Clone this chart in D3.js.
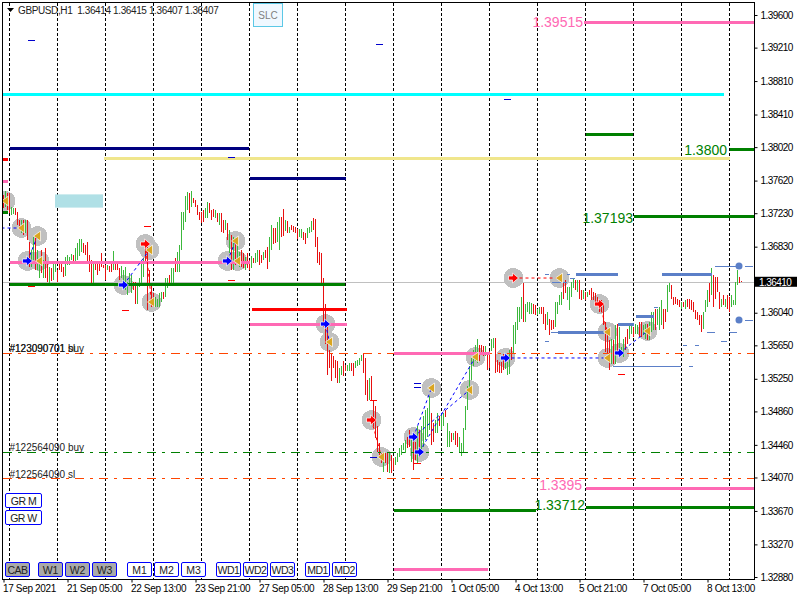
<!DOCTYPE html>
<html>
<head>
<meta charset="utf-8">
<style>
  html, body { margin: 0; padding: 0; background: #fff; overflow: hidden; }
  text { font-family: "Liberation Sans", Arial, sans-serif; }
</style>
<script src="https://cdn.jsdelivr.net/npm/d3@7"></script>
</head>
<body>
<div id="chart"></div>
<script>
// H1 bars, high / low, 10 per row
const barHigh = [
1.3745,1.3749,1.3747,1.3747,1.3731,1.3729,1.3729,1.3725,1.3715,1.3715,
1.3715,1.3715,1.3715,1.3689,1.3679,1.3695,1.3695,1.3679,1.3663,1.3679,
1.3667,1.3681,1.3663,1.3659,1.3657,1.3663,1.3663,1.3655,1.3663,1.3663,
1.3659,1.3671,1.3673,1.3671,1.3674,1.3673,1.3681,1.3687,1.3692,1.3692,
1.3687,1.3685,1.3689,1.3673,1.3667,1.3663,1.3663,1.3663,1.3663,1.3675,
1.3661,1.3661,1.3661,1.3660,1.3663,1.3678,1.3662,1.3663,1.3658,1.3660,
1.3655,1.3659,1.3641,1.3651,1.3649,1.3641,1.3641,1.3637,1.3645,1.3665,
1.3669,1.3691,1.3683,1.3655,1.3637,1.3627,1.3623,1.3621,1.3627,1.3629,
1.3629,1.3645,1.3645,1.3649,1.3657,1.3657,1.3670,1.3677,1.3685,1.3725,
1.3725,1.3743,1.3748,1.3747,1.3750,1.3741,1.3739,1.3733,1.3725,1.3725,
1.3727,1.3729,1.3736,1.3735,1.3727,1.3728,1.3727,1.3723,1.3723,1.3723,
1.3715,1.3715,1.3711,1.3703,1.3697,1.3695,1.3693,1.3685,1.3677,1.3679,
1.3675,1.3671,1.3675,1.3667,1.3672,1.3670,1.3675,1.3679,1.3679,1.3673,
1.3677,1.3679,1.3682,1.3695,1.3709,1.3705,1.3705,1.3713,1.3719,1.3719,
1.3728,1.3715,1.3714,1.3707,1.3709,1.3708,1.3707,1.3704,1.3704,1.3704,
1.3701,1.3699,1.3705,1.3706,1.3714,1.3717,1.3716,1.3695,1.3677,1.3675,
1.3645,1.3615,1.3587,1.3560,1.3556,1.3552,1.3548,1.3546,1.3538,1.3540,
1.3546,1.3542,1.3542,1.3544,1.3544,1.3544,1.3546,1.3548,1.3550,1.3554,
1.3556,1.3550,1.3524,1.3526,1.3528,1.3500,1.3492,1.3468,1.3448,1.3436,
1.3438,1.3436,1.3438,1.3438,1.3434,1.3430,1.3432,1.3436,1.3442,1.3446,
1.3448,1.3452,1.3456,1.3464,1.3452,1.3456,1.3450,1.3468,1.3464,1.3468,
1.3480,1.3488,1.3490,1.3504,1.3484,1.3472,1.3476,1.3484,1.3480,1.3484,
1.3484,1.3488,1.3472,1.3462,1.3460,1.3460,1.3462,1.3460,1.3456,1.3448,
1.3466,1.3492,1.3516,1.3540,1.3550,1.3560,1.3566,1.3572,1.3566,1.3566,
1.3564,1.3564,1.3556,1.3558,1.3572,1.3574,1.3574,1.3547,1.3545,1.3545,
1.3555,1.3551,1.3545,1.3559,1.3563,1.3589,1.3593,1.3611,1.3611,1.3623,
1.3639,1.3615,1.3617,1.3617,1.3616,1.3615,1.3613,1.3609,1.3611,1.3611,
1.3611,1.3603,1.3605,1.3597,1.3595,1.3595,1.3617,1.3617,1.3625,1.3629,
1.3641,1.3643,1.3635,1.3635,1.3641,1.3645,1.3643,1.3643,1.3643,1.3631,
1.3631,1.3629,1.3629,1.3631,1.3633,1.3629,1.3627,1.3623,1.3617,1.3619,
1.3615,1.3593,1.3583,1.3571,1.3573,1.3571,1.3589,1.3591,1.3587,1.3563,
1.3573,1.3575,1.3585,1.3589,1.3589,1.3587,1.3591,1.3589,1.3593,1.3593,
1.3589,1.3591,1.3591,1.3593,1.3605,1.3605,1.3609,1.3609,1.3611,1.3619,
1.3609,1.3609,1.3637,1.3639,1.3637,1.3623,1.3623,1.3621,1.3619,1.3617,
1.3617,1.3619,1.3621,1.3621,1.3619,1.3617,1.3607,1.3605,1.3601,1.3601,
1.3605,1.3619,1.3631,1.3639,1.3657,1.3649,1.3647,1.3647,1.3629,1.3621,
1.3625,1.3621,1.3625,1.3623,1.3625,1.3619,1.3641,1.3655,1.3647,1.3642
];
const barLow = [
1.3729,1.3731,1.3727,1.3723,1.3721,1.3722,1.3721,1.3709,1.3703,1.3699,
1.3697,1.3699,1.3691,1.3659,1.3659,1.3667,1.3655,1.3655,1.3645,1.3651,
1.3645,1.3645,1.3641,1.3639,1.3642,1.3643,1.3653,1.3641,1.3655,1.3653,
1.3647,1.3648,1.3661,1.3661,1.3667,1.3666,1.3663,1.3667,1.3672,1.3677,
1.3675,1.3673,1.3663,1.3653,1.3639,1.3639,1.3655,1.3649,1.3654,1.3659,
1.3657,1.3643,1.3655,1.3653,1.3653,1.3655,1.3655,1.3655,1.3643,1.3645,
1.3637,1.3631,1.3625,1.3637,1.3627,1.3631,1.3615,1.3615,1.3635,1.3639,
1.3647,1.3663,1.3607,1.3637,1.3611,1.3611,1.3611,1.3611,1.3611,1.3617,
1.3621,1.3623,1.3633,1.3639,1.3639,1.3639,1.3653,1.3653,1.3653,1.3679,
1.3703,1.3713,1.3727,1.3723,1.3731,1.3735,1.3731,1.3721,1.3715,1.3711,
1.3713,1.3717,1.3717,1.3723,1.3715,1.3719,1.3717,1.3713,1.3709,1.3701,
1.3699,1.3703,1.3691,1.3675,1.3655,1.3655,1.3661,1.3665,1.3659,1.3659,
1.3657,1.3655,1.3657,1.3655,1.3657,1.3663,1.3663,1.3665,1.3661,1.3663,
1.3667,1.3670,1.3656,1.3665,1.3679,1.3686,1.3687,1.3689,1.3679,1.3695,
1.3696,1.3702,1.3699,1.3699,1.3703,1.3701,1.3699,1.3692,1.3695,1.3693,
1.3691,1.3686,1.3693,1.3699,1.3701,1.3703,1.3683,1.3663,1.3661,1.3639,
1.3587,1.3567,1.3530,1.3538,1.3522,1.3538,1.3526,1.3520,1.3520,1.3530,
1.3528,1.3534,1.3534,1.3534,1.3534,1.3528,1.3538,1.3540,1.3542,1.3546,
1.3532,1.3506,1.3498,1.3500,1.3500,1.3468,1.3454,1.3438,1.3430,1.3424,
1.3414,1.3424,1.3414,1.3412,1.3412,1.3416,1.3422,1.3426,1.3432,1.3434,
1.3440,1.3436,1.3442,1.3444,1.3426,1.3416,1.3428,1.3424,1.3432,1.3436,
1.3444,1.3452,1.3456,1.3464,1.3446,1.3450,1.3460,1.3460,1.3468,1.3464,
1.3468,1.3479,1.3444,1.3444,1.3450,1.3452,1.3446,1.3444,1.3438,1.3433,
1.3438,1.3464,1.3488,1.3508,1.3524,1.3540,1.3546,1.3544,1.3546,1.3556,
1.3552,1.3552,1.3536,1.3538,1.3558,1.3562,1.3532,1.3533,1.3532,1.3532,
1.3535,1.3537,1.3530,1.3531,1.3547,1.3555,1.3567,1.3583,1.3593,1.3597,
1.3593,1.3593,1.3605,1.3603,1.3603,1.3603,1.3601,1.3601,1.3603,1.3603,
1.3591,1.3583,1.3589,1.3577,1.3583,1.3585,1.3587,1.3603,1.3613,1.3613,
1.3621,1.3627,1.3619,1.3607,1.3623,1.3633,1.3631,1.3629,1.3621,1.3619,
1.3621,1.3619,1.3623,1.3625,1.3619,1.3619,1.3617,1.3613,1.3605,1.3605,
1.3589,1.3557,1.3555,1.3535,1.3543,1.3543,1.3543,1.3555,1.3555,1.3553,
1.3551,1.3559,1.3567,1.3573,1.3579,1.3575,1.3579,1.3579,1.3575,1.3575,
1.3577,1.3573,1.3571,1.3571,1.3581,1.3583,1.3583,1.3589,1.3583,1.3589,
1.3585,1.3593,1.3605,1.3629,1.3621,1.3613,1.3615,1.3613,1.3611,1.3609,
1.3611,1.3609,1.3611,1.3609,1.3607,1.3605,1.3597,1.3595,1.3589,1.3581,
1.3585,1.3605,1.3611,1.3617,1.3625,1.3611,1.3621,1.3629,1.3609,1.3611,
1.3613,1.3611,1.3609,1.3605,1.3611,1.3613,1.3613,1.3637,1.3639,1.3641
];
// 1 = up bar (green), 0 = down bar (red)
const barUp = [
0,1,0,0,1,1,0,0,0,1, 0,1,0,0,1,1,0,1,1,0, 1,0,0,1,0,1,1,0,0,0,
0,1,1,1,1,0,1,1,1,1, 0,0,0,0,0,1,0,0,0,0, 0,0,1,0,0,1,0,0,0,1,
1,1,1,1,1,0,0,1,1,1, 1,0,0,0,0,0,1,1,1,1, 0,1,1,0,1,1,0,1,1,1,
1,1,1,0,1,0,0,0,0,0, 0,1,1,0,0,0,1,0,1,0, 0,1,0,1,0,1,0,1,1,0,
0,1,0,0,1,0,1,1,0,0, 1,0,0,1,1,0,0,1,1,0, 0,1,0,1,0,0,0,0,1,1,
0,0,1,1,1,0,0,0,0,0, 0,0,0,0,0,0,0,0,1,1, 0,0,1,1,0,0,1,1,1,1,
0,0,0,1,0,0,0,0,0,0, 1,0,0,1,0,0,1,1,1,1, 1,1,0,0,1,0,0,1,0,1,
1,1,1,1,0,0,1,1,0,1, 1,0,1,1,0,1,0,0,1,1, 1,1,1,1,1,1,1,1,0,0,
0,1,0,0,1,1,0,0,0,0, 0,1,1,1,0,1,1,1,1,1, 0,1,1,1,1,0,0,1,1,0,
0,0,1,0,0,0,1,1,1,1, 0,0,1,1,1,1,0,1,0,0, 1,0,1,0,0,0,0,0,0,0,
0,0,0,0,1,0,1,0,1,1, 1,0,0,1,1,0,1,1,0,0, 1,1,0,1,1,1,0,1,1,1,
0,0,1,1,0,0,0,0,0,1, 0,1,0,0,0,0,0,0,0,0, 1,1,1,0,1,0,0,0,0,1,
0,1,0,0,1,1,1,1,0,0
];

// price axis
const priceTicks = [1.396,1.3921,1.3881,1.3841,1.3802,1.3762,1.3723,1.3683,1.3604,1.3565,1.3525,1.3486,1.3446,1.3407,1.3367,1.3327,1.3288];
const lastPrice = 1.3641;
// time axis: bar index and label
const timeBars = [0,32,64,96,128,160,192,224,256,288,320,352];
const timeLabels = ["17 Sep 2021","21 Sep 05:00","22 Sep 13:00","23 Sep 21:00","27 Sep 05:00","28 Sep 13:00","29 Sep 21:00","1 Oct 05:00","4 Oct 13:00","5 Oct 21:00","7 Oct 05:00","8 Oct 13:00"];
const dayBars = [3,27,51,75,99,123,147,171,195,219,243,267,291,315,339,363];

// level segments [from bar, to bar, price]
const pinkLevels = [[-0.25,2.25,1.37615],[3,123,1.36643],[123,171.5,1.35902],[195,243,1.35555],[290,375.5,1.39515],[291,375.5,1.3395],[195,242,1.32972]];
const greenLevels = [[-0.25,2.25,1.37241],[3,170.5,1.3638],[291,314.5,1.38174],[363,375.5,1.37994],[315,375.5,1.37193],[291,375.5,1.33712],[195,266,1.33678]];
const navyLevels = [[3,122.5,1.38006],[123,171,1.37647]];
const redLevels = [[-0.25,2.25,1.37875],[124,171.5,1.36081]];
const cyanLevels = [[-0.25,360.25,1.38652]];
const khakiLevels = [[50,363,1.37887]];
// text beside the levels [right edge bar, price, label]
const pinkLabels = [[289.75,1.39515,"1.39515"],[289.25,1.33975,"1.3395"]];
const greenLabels = [[361.75,1.37982,"1.3800"],[314.75,1.37175,"1.37193"],[290.75,1.33745,"1.33712"]];

// order lines
const orderLevels = [1.35555,1.34371,1.3406];
const orderTags = [[3,1.35615,"#123090701 sl"],[3,1.35615,"#123090701 buy"],[3,1.34432,"#122564090 buy"],[3,1.34115,"#122564090 sl"]];

// steel blue segments
const steelThick = [[286,307,1.36503],[277,300,1.3581],[307,315,1.35905],[316,325,1.36001],[329,354,1.36503]];
const steelThin = [[273.75,277,1.3581],[270.75,272.75,1.36503],[281.75,283.25,1.36503],[270.75,272.75,1.35702],[283.25,285.75,1.36455],[274.25,281.75,1.36407],[304.75,338.75,1.35403],[342.75,344.75,1.35403],[325.25,327.25,1.36109],[355.75,367.75,1.36599],[351.75,355.75,1.3581],[362.75,366.75,1.3581],[339.75,341.75,1.35654],[345.75,347.75,1.35654],[358.75,361.75,1.35702],[370.75,374.75,1.36599],[370.75,374.75,1.35953]];
const steelDots = [[367.75,1.36599],[367.75,1.35953]];

// small dashes [bar, price]
const redDashes = [[12,1.36356],[59,1.36069],[70,1.37074],[112,1.36428],[307,1.35307],[205,1.34247],[183,1.34997]];
const blueDashes = [[12,1.39301],[186,1.39253],[250,1.38596],[112,1.37902],[205,1.35196],[205,1.35148],[183,1.34311]];

// trades [bar, price]
const buyBars = [12,60,112,161,205,208,251,308];
const buyPrices = [1.36659,1.36372,1.36659,1.35905,1.34554,1.34375,1.35499,1.35559];
const sellBars = [71,184,255,298];
const sellPrices = [1.36862,1.34757,1.36455,1.36144];
const closeBars = [1,9,17,18,73,74,116,117,163,189,214,236,233,278,302,302,322];
const closePrices = [1.37376,1.37053,1.36957,1.36659,1.3679,1.36168,1.36898,1.36659,1.3569,1.34315,1.3514,1.35511,1.35116,1.36455,1.3581,1.35499,1.35822];
const blueLinks = [[-1,1.37053,9,1.37053],[12,1.36659,17,1.36957],[60,1.36372,73,1.3679],[112,1.36659,116,1.36898],[161,1.35905,163,1.3569],[205,1.34554,214,1.3514],[208,1.34375,236,1.35511],[205,1.34554,233,1.35116],[251,1.35499,302,1.35499],[308,1.35559,322,1.35822]];
const redLinks = [[71,1.36862,74,1.36168],[184,1.34757,189,1.34315],[255,1.36455,278,1.36455],[298,1.36144,302,1.3581]];

// buttons
const bottomButtons = ["CAB","W1","W2","W3","M1","M2","M3","WD1","WD2","WD3","MD1","MD2"];
const bottomButtonX = [5.5,38.5,65.5,92.5,127.5,154.5,181.5,216.5,243.5,270.5,305.5,332.5];
const greyButtons = ["CAB","W1","W2","W3"];
const sideButtons = ["GR M","GR W"];

const width = 800
const height = 600
const plotLeft = 2.5, plotRight = 754.5, plotTop = 2.5, plotBottom = 579.5

const svg = d3.select("#chart").append("svg")
    .attr("width", width)
    .attr("height", height)
    .style("display", "block")

svg.append("defs").append("clipPath").attr("id", "plot")
    .append("rect").attr("x", plotLeft).attr("y", plotTop).attr("width", plotRight - plotLeft).attr("height", plotBottom - plotTop)

const x = d3.scaleLinear().domain([0, 369]).range([3.5, 741.5])
const y = d3.scaleLinear().domain([1.396, 1.3288]).range([15, 577])
const py = p => Math.round(y(p)) + 0.5

const plot = svg.append("g").attr("clip-path", "url(#plot)")

// day grid
plot.append("g").selectAll("line").data(dayBars).enter().append("line")
    .attr("x1", d => x(d)).attr("x2", d => x(d))
    .attr("y1", plotTop).attr("y2", plotBottom)
    .attr("stroke", "#000").attr("stroke-dasharray", "3,2")
    .attr("shape-rendering", "crispEdges")

plot.append("rect")
    .attr("x", x(25.75)).attr("y", y(1.37455)).attr("width", x(49.75) - x(25.75)).attr("height", y(1.37297) - y(1.37455))
    .attr("fill", "#b0e0e6")

// trade circles sit under the bars
const allTrades = []
buyBars.forEach((b, i) => allTrades.push([b, buyPrices[i]]))
sellBars.forEach((b, i) => allTrades.push([b, sellPrices[i]]))
closeBars.forEach((b, i) => allTrades.push([b, closePrices[i]]))
plot.append("g").selectAll("circle").data(allTrades).enter().append("circle")
    .attr("cx", d => x(d[0])).attr("cy", d => y(d[1])).attr("r", 10)
    .attr("fill", "#c0c0c0").attr("shape-rendering", "crispEdges")

// current price line
plot.append("line")
    .attr("x1", plotLeft).attr("x2", plotRight).attr("y1", py(lastPrice)).attr("y2", py(lastPrice))
    .attr("stroke", "#c0c0c0").attr("shape-rendering", "crispEdges")

// bars
plot.append("g").selectAll("line").data(barHigh).enter().append("line")
    .attr("x1", (d, i) => x(i)).attr("x2", (d, i) => x(i))
    .attr("y1", d => y(d)).attr("y2", (d, i) => y(barLow[i]))
    .attr("stroke", (d, i) => barUp[i] ? "#3cb83c" : "#e81010")
    .attr("shape-rendering", "crispEdges")

function drawLevels(data, color, w) {
    plot.append("g").selectAll("line").data(data).enter().append("line")
        .attr("x1", d => x(d[0])).attr("x2", d => x(d[1]))
        .attr("y1", d => py(d[2])).attr("y2", d => py(d[2]))
        .attr("stroke", color).attr("stroke-width", w)
        .attr("shape-rendering", "crispEdges")
}

// order lines
const orderColors = ["#ff4500", "#008000", "#ff4500"]
plot.append("g").selectAll("line").data(orderLevels).enter().append("line")
    .attr("x1", plotLeft).attr("x2", plotRight)
    .attr("y1", d => py(d)).attr("y2", d => py(d))
    .attr("stroke", (d, i) => orderColors[i])
    .attr("stroke-dasharray", "9,6,3,6")
    .attr("shape-rendering", "crispEdges")

drawLevels(cyanLevels, "#00ffff", 3)
drawLevels(khakiLevels, "#f0e68c", 3)
drawLevels(pinkLevels, "#ff69b4", 3)
drawLevels(navyLevels, "#000080", 3)
drawLevels(redLevels, "#ff0000", 3)
drawLevels(greenLevels, "#008000", 3)
drawLevels(steelThin, "#5b7fc8", 1)
drawLevels(steelThick, "#5b7fc8", 3)

plot.append("g").selectAll("circle").data(steelDots).enter().append("circle")
    .attr("cx", d => x(d[0])).attr("cy", d => y(d[1])).attr("r", 3.5)
    .attr("fill", "#5b7fc8")

function drawLinks(data, color) {
    plot.append("g").selectAll("line").data(data).enter().append("line")
        .attr("x1", d => x(d[0])).attr("y1", d => y(d[1]))
        .attr("x2", d => x(d[2])).attr("y2", d => y(d[3]))
        .attr("stroke", color).attr("stroke-dasharray", "3,3")
}
drawLinks(blueLinks, "#0000ff")
drawLinks(redLinks, "#ff0000")

function drawDashes(data, color) {
    plot.append("g").selectAll("line").data(data).enter().append("line")
        .attr("x1", d => x(d[0])).attr("x2", d => x(d[0] + 3.5))
        .attr("y1", d => py(d[1])).attr("y2", d => py(d[1]))
        .attr("stroke", color).attr("shape-rendering", "crispEdges")
}
drawDashes(redDashes, "#ff0000")
drawDashes(blueDashes, "#0000cd")

// trade arrows
const arrowPath = "M-5,-2H-1V-5L5,0L-1,5V2H-5Z"
plot.append("g").selectAll("path").data(d3.zip(buyBars, buyPrices)).enter().append("path")
    .attr("d", arrowPath)
    .attr("transform", d => "translate(" + x(d[0]) + "," + y(d[1]) + ")")
    .attr("fill", "#0000ff").attr("stroke", "#fff").attr("stroke-width", 0.7)
plot.append("g").selectAll("path").data(d3.zip(sellBars, sellPrices)).enter().append("path")
    .attr("d", arrowPath)
    .attr("transform", d => "translate(" + x(d[0]) + "," + y(d[1]) + ")")
    .attr("fill", "#ff0000").attr("stroke", "#fff").attr("stroke-width", 0.7)
plot.append("g").selectAll("path").data(d3.zip(closeBars, closePrices)).enter().append("path")
    .attr("d", "M3,-5V5L-4,0Z")
    .attr("transform", d => "translate(" + x(d[0]) + "," + y(d[1]) + ")")
    .attr("fill", "#daa520").attr("stroke", "#fff").attr("stroke-width", 0.7)

// level texts
function drawLevelText(data, color) {
    svg.append("g").selectAll("text").data(data).enter().append("text")
        .attr("x", d => x(d[0])).attr("y", d => y(d[1]) + 5)
        .attr("text-anchor", "end").attr("font-size", 14)
        .attr("fill", color).text(d => d[2])
}
drawLevelText(pinkLabels, "#ff69b4")
drawLevelText(greenLabels, "#008000")

// order tags
svg.append("g").selectAll("text").data(orderTags).enter().append("text")
    .attr("x", d => x(d[0])).attr("y", d => y(d[1]) + 4)
    .attr("font-size", 10).attr("fill", "#222")
    .text(d => d[2])

// frame
svg.append("rect")
    .attr("x", plotLeft).attr("y", plotTop).attr("width", plotRight - plotLeft).attr("height", plotBottom - plotTop)
    .attr("fill", "none").attr("stroke", "#000").attr("shape-rendering", "crispEdges")

// axes, drawn by d3 then trimmed to the terminal look
const yAxis = d3.axisRight(y).tickValues(priceTicks).tickSize(3).tickPadding(3).tickFormat(d3.format(".5f"))
const gy = svg.append("g").attr("transform", "translate(" + plotRight + ",0)").call(yAxis)
gy.select(".domain").remove()
gy.selectAll("text").attr("font-size", 10).attr("fill", "#000").style("letter-spacing", "-0.55px").style("font-family", "'Liberation Sans'")

const xAxis = d3.axisBottom(x).tickValues(timeBars).tickSize(3).tickPadding(2).tickFormat((d, i) => timeLabels[i])
const gx = svg.append("g").attr("transform", "translate(0," + plotBottom + ")").call(xAxis)
gx.select(".domain").remove()
gx.selectAll("text").attr("text-anchor", "start").attr("dx", -1).attr("font-size", 10).attr("fill", "#000").style("letter-spacing", "-0.35px").style("font-family", "'Liberation Sans'")

// last price box
svg.append("rect").attr("x", 755).attr("y", y(lastPrice) - 5).attr("width", 42).attr("height", 10).attr("fill", "#000")
svg.append("text").attr("x", 759).attr("y", y(lastPrice) + 4).attr("font-size", 10).attr("fill", "#fff")
    .style("letter-spacing", "-0.55px").text(d3.format(".5f")(lastPrice))

// header
svg.append("path").attr("d", "M7,8H14L10.5,12Z").attr("fill", "#000")
svg.append("text").attr("x", 18).attr("y", 14).attr("font-size", 10).attr("fill", "#222")
    .attr("xml:space", "preserve").style("white-space", "pre").style("letter-spacing", "-0.38px")
    .text("GBPUSD,H1  1.36414 1.36415 1.36407 1.36407")

// SLC button
svg.append("rect").attr("x", 253.5).attr("y", 3.5).attr("width", 29).attr("height", 23)
    .attr("fill", "#f0f8ff").attr("stroke", "#5cc8e6")
svg.append("text").attr("x", 268).attr("y", 19).attr("text-anchor", "middle").attr("font-size", 10).attr("fill", "#808080").text("SLC")

// buttons
function drawButton(label, bx, by, w) {
    const grey = greyButtons.includes(label)
    svg.append("rect").attr("x", bx).attr("y", by).attr("width", w).attr("height", 14).attr("rx", 1.5)
        .attr("fill", grey ? "#a9a9a9" : "#fff").attr("stroke", "#0000ff")
    svg.append("text").attr("x", bx + w / 2).attr("y", by + 11).attr("text-anchor", "middle")
        .attr("font-size", 10.5).style("letter-spacing", label.length > 2 ? "-0.5px" : "0").attr("fill", "#222").text(label)
}
bottomButtons.forEach((b, i) => drawButton(b, bottomButtonX[i], 562.5, 24))
sideButtons.forEach((b, i) => drawButton(b, 5.5, 493.5 + i * 17, 36))
</script>
</body>
</html>
